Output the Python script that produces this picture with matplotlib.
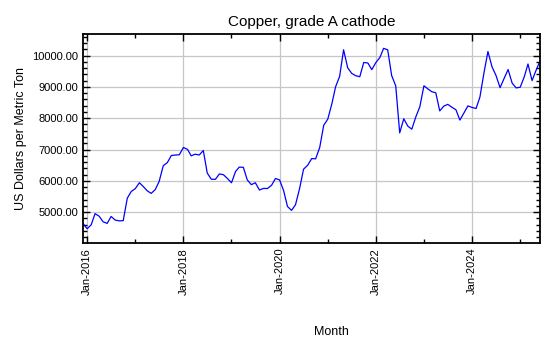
import numpy as np
import pandas as pd
import matplotlib
matplotlib.use('Agg')
import matplotlib.pyplot as plt
import matplotlib.dates as mdates
from matplotlib.ticker import FormatStrFormatter, MultipleLocator

# ── data: monthly copper price, USD per metric ton, Dec-2015 .. Jun-2025 ──
START_MONTH = '2015-12-01'
PRICES = [
    4639,
    4472, 4599, 4954, 4873, 4695, 4642, 4864, 4750, 4723, 4731, 5450, 5660,  # 2016
    5755, 5941, 5825, 5684, 5600, 5721, 5985, 6485, 6583, 6809, 6825, 6834,  # 2017
    7066, 7006, 6799, 6852, 6825, 6969, 6249, 6051, 6050, 6222, 6196, 6077,  # 2018
    5939, 6301, 6439, 6433, 6029, 5879, 5941, 5709, 5759, 5756, 5858, 6077,  # 2019
    6031, 5687, 5183, 5058, 5239, 5755, 6372, 6497, 6712, 6704, 7071, 7772,  # 2020
    7971, 8460, 8998, 9336, 10184, 9612, 9434, 9357, 9324, 9778, 9765, 9551,  # 2021
    9776, 9941, 10231, 10183, 9361, 9032, 7532, 7982, 7746, 7651, 8049, 8367,  # 2022
    9036, 8933, 8848, 8812, 8234, 8386, 8443, 8352, 8270, 7940, 8169, 8394,  # 2023
    8344, 8311, 8675, 9451, 10129, 9640, 9366, 8975, 9272, 9555, 9119, 8967,  # 2024
    8989, 9324, 9731, 9201, 9526, 9835,                                      # 2025
]
TITLE  = 'Copper, grade A cathode'
YLABEL = 'US Dollars per Metric Ton'
XLABEL = 'Month'

months = pd.date_range(START_MONTH, periods=len(PRICES), freq='MS')

plt.rcParams['font.family'] = ['Liberation Sans', 'DejaVu Sans']

fig = plt.figure(figsize=(5.5, 3.5), dpi=100)
ax = fig.add_axes([0.151, 0.306, 0.831, 0.597])

ax.plot(months, PRICES, color='#0000ff', lw=0.9)

ax.set_xlim(months[0], months[-1])
ax.set_ylim(4020, 10690)

ax.xaxis.set_major_locator(mdates.YearLocator(2))
ax.xaxis.set_minor_locator(mdates.YearLocator(1))
ax.xaxis.set_major_formatter(mdates.DateFormatter('%b-%Y'))
ax.yaxis.set_major_locator(MultipleLocator(1000))
ax.yaxis.set_minor_locator(MultipleLocator(200))
ax.yaxis.set_major_formatter(FormatStrFormatter('%.2f'))

ax.tick_params(which='both', direction='in', top=True, right=True,
               labelsize=8, width=1)
ax.tick_params(which='major', length=5)
ax.tick_params(which='minor', length=3)
plt.setp(ax.get_xticklabels(), rotation=90)

ax.grid(True, which='major', color='#c6c6c6', lw=0.9)
for sp in ax.spines.values():
    sp.set_linewidth(1.3)

ax.set_title(TITLE, fontsize=11, pad=6)
ax.set_ylabel(YLABEL, fontsize=9)
ax.set_xlabel(XLABEL, fontsize=9)
ax.xaxis.set_label_coords(0.543, -0.40)

fig.savefig('out.png', dpi=100)
